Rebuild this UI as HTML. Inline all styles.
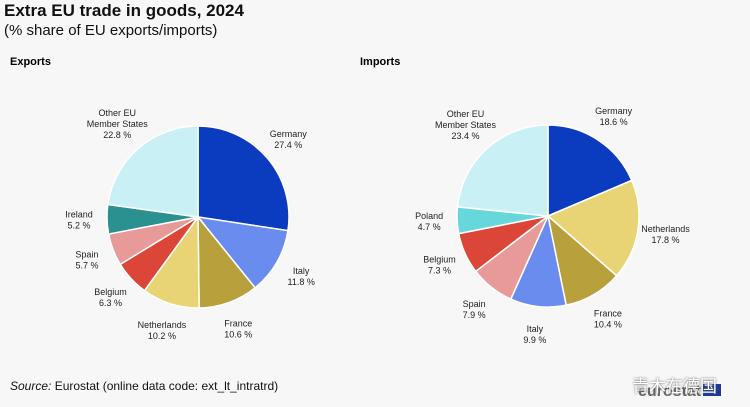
<!DOCTYPE html>
<html><head><meta charset="utf-8">
<style>
body{margin:0;background:#f7f7f7;width:750px;height:407px;overflow:hidden;font-family:"Liberation Sans",sans-serif;position:relative}
.t{position:absolute;white-space:nowrap}
</style></head><body>
<div class="t" style="left:4px;top:1px;font-size:17px;font-weight:bold;color:#111">Extra EU trade in goods, 2024</div>
<div class="t" style="left:4px;top:22px;font-size:15px;color:#111">(% share of EU exports/imports)</div>
<div class="t" style="left:10px;top:56px;font-size:11px;font-weight:bold">Exports</div>
<div class="t" style="left:360px;top:56px;font-size:11px;font-weight:bold">Imports</div>
<svg id="chart" width="750" height="407" style="position:absolute;left:0;top:0"></svg>
<div class="t" style="left:10px;top:379px;font-size:12px;color:#111"><i>Source:</i> Eurostat (online data code: ext_lt_intratrd)</div>
<div class="t" style="left:638px;top:383px;font-size:16px;font-weight:bold;color:#666">eurostat<span style="display:inline-block;width:18px;height:12px;background:#1a3a9a;margin-left:2px"></span></div>
<div class="t" style="left:632px;top:372px;font-size:17px;color:#fff;font-family:'Liberation Sans','Noto Sans CJK SC',sans-serif;text-shadow:0 0 2px #555">青木在德国</div>
<script>
const expLabels=["Germany","Italy","France","Netherlands","Belgium","Spain","Ireland","Other EU|Member States"];
const expValues=[27.4,11.8,10.6,10.2,6.3,5.7,5.2,22.8];
const expColors=["#0b3cc0","#6a8cee","#b8a03c","#e8d474","#dc4638","#e89a98","#2a9090","#c9f1f5"];
const impLabels=["Germany","Netherlands","France","Italy","Spain","Belgium","Poland","Other EU|Member States"];
const impValues=[18.6,17.8,10.4,9.9,7.9,7.3,4.7,23.4];
const impColors=["#0b3cc0","#e8d474","#b8a03c","#6a8cee","#e89a98","#dc4638","#66d8dc","#c9f1f5"];
const svg=document.getElementById('chart');
const NS='http://www.w3.org/2000/svg';
function pie(cx,cy,r,labels,values,colors,prefix){
  const total=values.reduce((a,b)=>a+b,0);
  let acc=0;
  values.forEach((v,i)=>{
    const a0=acc/total*2*Math.PI, a1=(acc+v)/total*2*Math.PI; acc+=v;
    const x0=cx+r*Math.sin(a0), y0=cy-r*Math.cos(a0), x1=cx+r*Math.sin(a1), y1=cy-r*Math.cos(a1);
    const p=document.createElementNS(NS,'path');
    p.setAttribute('d',`M${cx},${cy}L${x0},${y0}A${r},${r} 0 ${a1-a0>Math.PI?1:0} 1 ${x1},${y1}Z`);
    p.setAttribute('fill',colors[i]);p.setAttribute('stroke','#fff');p.setAttribute('stroke-width','1.5');
    
    
    svg.appendChild(p);
    const am=(a0+a1)/2, lr=r+ (labels[i].includes('|')?32:28);
    const lx=cx+lr*Math.sin(am), ly=cy-lr*Math.cos(am);
    const lines=labels[i].split('|').concat([v.toFixed(1)+' %']);
    const t=document.createElementNS(NS,'text');
    
    
    t.setAttribute('text-anchor','middle');t.setAttribute('font-size','9');t.setAttribute('fill','#222');
    t.setAttribute('font-family','Liberation Sans, sans-serif');
    const y0l=ly-(lines.length-1)*5.5+3;
    lines.forEach((s,k)=>{const ts=document.createElementNS(NS,'tspan');ts.setAttribute('x',lx);ts.setAttribute('y',y0l+k*11);ts.textContent=s;t.appendChild(ts);});
    svg.appendChild(t);
  });
}
pie(198,217,91,expLabels,expValues,expColors,'exports');
pie(548,216,91,impLabels,impValues,impColors,'imports');
</script>
</body></html>
